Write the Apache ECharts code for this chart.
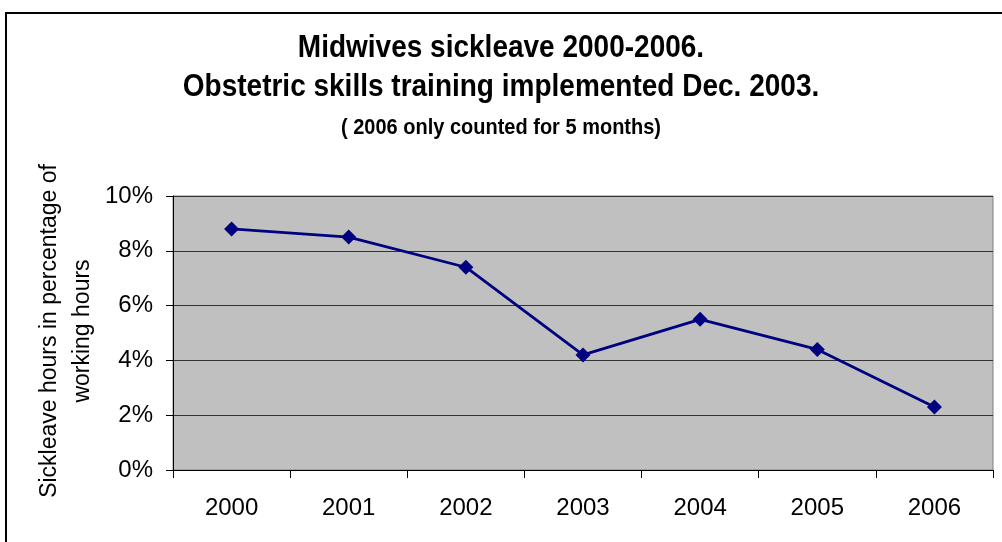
<!DOCTYPE html>
<html>
<head>
<meta charset="utf-8">
<title>Midwives sickleave 2000-2006</title>
<script src="https://cdn.jsdelivr.net/npm/echarts@6/dist/echarts.min.js"></script>
<style>
  html, body { margin: 0; padding: 0; background: #ffffff; }
  #chart { width: 1002px; height: 542px; }
</style>
</head>
<body>
<div id="chart"></div>
<script>
// Sick leave as a share of working hours, per year
const years = ['2000', '2001', '2002', '2003', '2004', '2005', '2006'];
const sickleavePct = [8.8, 8.5, 7.4, 4.2, 5.5, 4.4, 2.3];

const titleLines = [
  'Midwives sickleave 2000-2006.',
  'Obstetric skills training implemented Dec. 2003.',
  '( 2006 only counted for 5 months)'
];
const yAxisTitle = 'Sickleave hours in percentage of\nworking hours';

const FONT = '"Liberation Sans", Arial, Helvetica, sans-serif';

// one centred, slightly tall bold title line
function titleText(text, y, size) {
  return {
    type: 'text', silent: true,
    x: 501, y: y, scaleY: 1.12,
    style: {
      text: text, fontFamily: FONT, fontSize: size, fontWeight: 'bold',
      fill: '#000', align: 'center', verticalAlign: 'middle'
    }
  };
}

const chart = echarts.init(document.getElementById('chart'), null, { renderer: 'canvas' });

chart.setOption({
  backgroundColor: '#ffffff',
  animation: false,
  graphic: [
    {
      // chart-area frame
      type: 'rect', silent: true, z: 100,
      shape: { x: 6, y: 13, width: 1100, height: 600 },
      style: { fill: null, stroke: '#000', lineWidth: 2 }
    },
    titleText(titleLines[0], 48, 28),
    titleText(titleLines[1], 87, 28),
    titleText(titleLines[2], 128, 20),
    {
      type: 'text', silent: true,
      x: 66, y: 331, rotation: Math.PI / 2,
      style: {
        text: yAxisTitle, fontFamily: FONT, fontSize: 23, lineHeight: 33,
        fill: '#000', align: 'center', verticalAlign: 'middle'
      }
    }
  ],
  grid: {
    left: 173, top: 196, right: 9, bottom: 72,
    show: true, backgroundColor: '#c0c0c0', borderColor: '#808080', borderWidth: 1,
    containLabel: false
  },
  xAxis: {
    type: 'category',
    data: years,
    boundaryGap: true,
    axisLine: { lineStyle: { color: '#000', width: 1 } },
    axisTick: { show: true, inside: false, length: 8, lineStyle: { color: '#000' } },
    axisLabel: { fontFamily: FONT, fontSize: 24, color: '#000', margin: 26 },
    splitLine: { show: false }
  },
  yAxis: {
    type: 'value',
    min: 0, max: 10, interval: 2,
    axisLine: { show: true, lineStyle: { color: '#000', width: 1 } },
    axisTick: { show: true, inside: false, length: 7, lineStyle: { color: '#000' } },
    axisLabel: { fontFamily: FONT, fontSize: 24, color: '#000', margin: 20, formatter: '{value}%' },
    splitLine: { show: true, lineStyle: { color: '#333', width: 1 } }
  },
  series: [
    {
      type: 'line',
      data: sickleavePct,
      symbol: 'diamond',
      symbolSize: 15,
      showSymbol: true,
      lineStyle: { color: '#000080', width: 2.8 },
      itemStyle: { color: '#000080', borderWidth: 0 }
    }
  ]
});
</script>
</body>
</html>
